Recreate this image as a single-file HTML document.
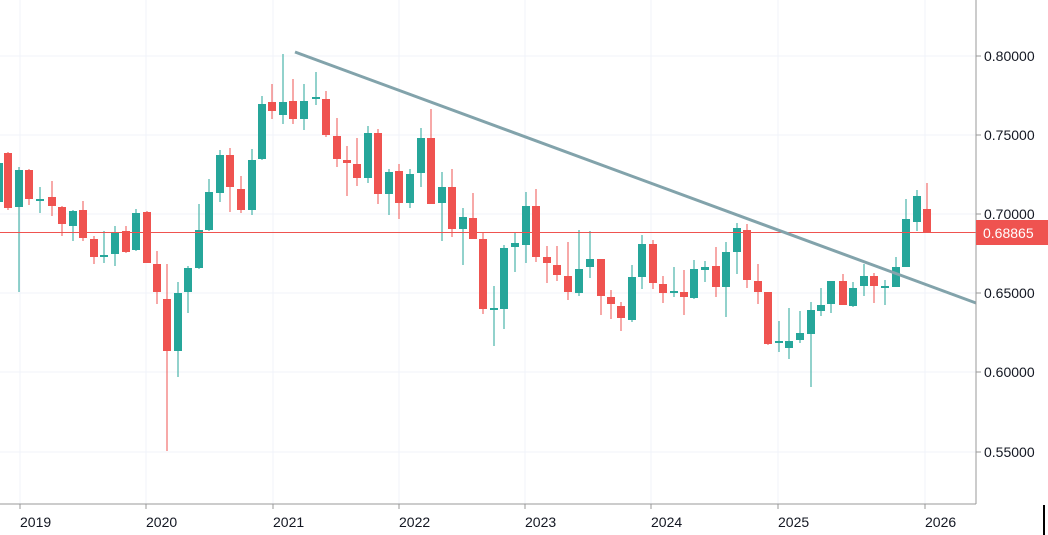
<!DOCTYPE html>
<html><head><meta charset="utf-8"><style>
html,body{margin:0;padding:0;background:#fff;}
svg{display:block;}
text{font-family:"Liberation Sans",sans-serif;font-size:14px;fill:#131722;}
</style></head><body>
<svg width="1048" height="535" viewBox="0 0 1048 535" xmlns="http://www.w3.org/2000/svg">
<rect width="1048" height="535" fill="#fff"/>
<g stroke="#f0f3fa" stroke-width="1">
<line x1="0" y1="56" x2="976" y2="56"/><line x1="0" y1="135" x2="976" y2="135"/><line x1="0" y1="214" x2="976" y2="214"/>
<line x1="0" y1="293" x2="976" y2="293"/><line x1="0" y1="372" x2="976" y2="372"/><line x1="0" y1="452" x2="976" y2="452"/>
<line x1="20" y1="0" x2="20" y2="504"/><line x1="146" y1="0" x2="146" y2="504"/><line x1="273" y1="0" x2="273" y2="504"/>
<line x1="399" y1="0" x2="399" y2="504"/><line x1="525" y1="0" x2="525" y2="504"/><line x1="651" y1="0" x2="651" y2="504"/>
<line x1="778" y1="0" x2="778" y2="504"/><line x1="925" y1="0" x2="925" y2="504"/>
</g>
<g id="candles"></g>
<line x1="0" y1="232.5" x2="976" y2="232.5" stroke="#ef5350" stroke-width="1"/>
<line x1="295" y1="52" x2="976" y2="303" stroke="#82a3ab" stroke-width="3"/>
<line x1="976" y1="0" x2="976" y2="504" stroke="#999" stroke-width="1"/>
<line x1="0" y1="504" x2="976" y2="504" stroke="#999" stroke-width="1"/>
<g stroke="#999"><line x1="976" y1="56" x2="981" y2="56"/><line x1="976" y1="135" x2="981" y2="135"/><line x1="976" y1="214" x2="981" y2="214"/><line x1="976" y1="293" x2="981" y2="293"/><line x1="976" y1="372" x2="981" y2="372"/><line x1="976" y1="452" x2="981" y2="452"/>
<line x1="20" y1="504" x2="20" y2="509"/><line x1="146" y1="504" x2="146" y2="509"/><line x1="273" y1="504" x2="273" y2="509"/><line x1="399" y1="504" x2="399" y2="509"/><line x1="525" y1="504" x2="525" y2="509"/><line x1="651" y1="504" x2="651" y2="509"/><line x1="778" y1="504" x2="778" y2="509"/><line x1="925" y1="504" x2="925" y2="509"/></g>
<text x="984" y="61">0.80000</text><text x="984" y="140">0.75000</text><text x="984" y="219">0.70000</text>
<text x="984" y="298">0.65000</text><text x="984" y="377">0.60000</text><text x="984" y="457">0.55000</text>
<rect x="976" y="220" width="72" height="25" fill="#ef5350"/>
<text x="983" y="238" style="fill:#fff;font-size:14px">0.68865</text>
<text x="20" y="527">2019</text><text x="146" y="527">2020</text><text x="273" y="527">2021</text><text x="399" y="527">2022</text>
<text x="525" y="527">2023</text><text x="651" y="527">2024</text><text x="778" y="527">2025</text><text x="925" y="527">2026</text>
<rect x="1043" y="505" width="2" height="30" fill="#000"/>
</svg>
<script>
var d=[[-1,'G',163,202,158,206],[8,'R',153,208,152,210],[19,'G',170,207,167,292],[29,'R',170,199,169,205],[40,'G',199,201,187,213],[52,'R',197,206,181,216],[62,'R',207,224,206,236],[73,'G',211,226,210,241],[83,'R',210,238,201,241],[94,'R',239,257,236,264],[104,'G',255,257,231,263],[115,'G',232,254,226,266],[126,'R',231,252,226,253],[136,'G',213,250,209,251],[147,'R',212,263,211,263],[157,'R',264,292,251,304],[167,'R',299,351,264,451],[178,'G',293,351,282,377],[188,'G',268,292,266,313],[199,'G',230,268,204,269],[209,'G',192,230,179,231],[220,'G',155,193,150,202],[230,'R',155,187,148,212],[241,'R',189,210,176,213],[252,'G',160,210,149,215],[262,'G',104,159,96,160],[272,'R',102,111,84,119],[283,'G',102,115,54,124],[293,'R',101,119,79,124],[304,'G',101,119,84,130],[316,'G',97,99,72,105],[326,'R',99,135,91,137],[337,'R',136,159,118,167],[347,'R',160,163,146,196],[357,'R',164,178,138,186],[368,'G',133,178,126,183],[378,'R',133,194,129,204],[389,'G',172,194,169,215],[399,'R',171,203,164,219],[410,'G',174,203,169,208],[421,'G',138,173,128,187],[431,'R',138,204,109,204],[442,'G',187,203,172,241],[452,'R',187,229,169,237],[463,'G',217,229,208,265],[473,'R',218,239,193,239],[483,'R',239,309,232,314],[494,'G',308,310,286,346],[504,'G',248,309,245,329],[515,'G',243,247,232,272],[526,'G',206,245,192,263],[536,'R',206,257,189,262],[547,'R',257,263,246,283],[557,'R',265,275,246,281],[568,'R',276,292,242,300],[579,'G',269,293,230,296],[590,'G',259,267,231,278],[601,'R',259,296,259,315],[611,'R',297,304,290,319],[621,'R',306,318,302,331],[632,'G',277,320,265,322],[642,'G',244,277,235,289],[653,'R',244,283,240,289],[663,'R',284,293,276,303],[674,'G',291,293,267,297],[684,'R',292,297,270,315],[694,'G',269,298,260,299],[705,'G',267,270,261,282],[716,'R',266,287,247,297],[726,'G',252,287,242,317],[737,'G',228,252,223,274],[747,'R',230,280,224,288],[758,'R',281,292,264,304],[768,'R',292,344,292,345],[779,'G',341,343,321,352],[789,'G',341,348,308,359],[800,'G',333,340,311,343],[811,'G',310,334,302,387],[821,'G',305,311,288,316],[831,'G',281,304,281,313],[843,'R',281,305,274,305],[853,'G',288,306,282,307],[864,'G',276,286,264,296],[874,'R',276,286,273,303],[885,'G',286,288,280,305],[896,'G',267,287,257,287],[906,'G',219,267,199,267],[917,'G',196,222,190,231],[927,'R',209,233,183,233]];
var g=document.getElementById('candles'),s='';
d.forEach(function(c){var col=c[1]=='G'?'#26a69a':'#ef5350';var h=Math.max(2,c[3]-c[2]);
s+='<rect x="'+(c[0]-0.5)+'" y="'+c[4]+'" width="1" height="'+(c[5]-c[4])+'" fill="'+col+'"/>';
s+='<rect x="'+(c[0]-4)+'" y="'+c[2]+'" width="8" height="'+h+'" fill="'+col+'"/>';});
g.innerHTML=s;
</script>
</body></html>
